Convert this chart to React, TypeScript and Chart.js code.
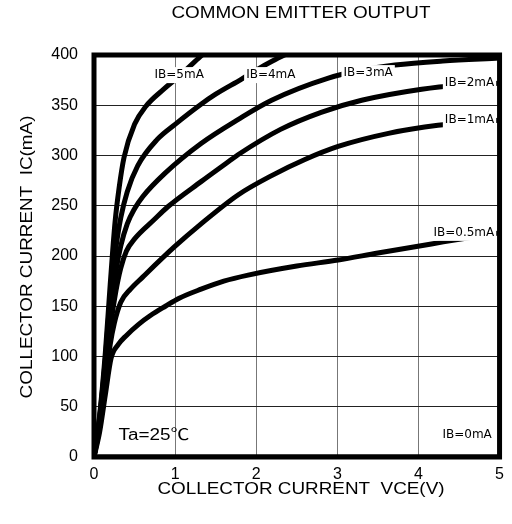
import React, { useEffect, useRef } from "react";
import { Chart, registerables } from "chart.js";

Chart.register(...registerables);

// ---- data (VCE in V, IC in mA) ----
const VCE_TICKS = [0, 1, 2, 3, 4, 5];
const IC_TICKS = [0, 50, 100, 150, 200, 250, 300, 350, 400];

const IB_5mA: [number, number][] = [
  [0, 0], [0.07, 42], [0.14, 104], [0.2, 172], [0.26, 234], [0.31, 268], [0.37, 298],
  [0.5, 331], [0.64, 349], [0.86, 366], [1.05, 379], [1.29, 397], [1.45, 408],
];
const IB_4mA: [number, number][] = [
  [0, 0], [0.07, 40], [0.14, 98], [0.2, 160], [0.27, 208], [0.33, 238], [0.41, 264],
  [0.54, 290], [0.78, 316], [1.0, 331], [1.32, 351], [1.5, 361], [1.82, 376],
  [2.0, 385], [2.2, 394], [2.45, 404],
];
const IB_3mA: [number, number][] = [
  [0, 0], [0.07, 38], [0.14, 94], [0.2, 145], [0.27, 185], [0.33, 210], [0.41, 232],
  [0.5, 247], [0.6, 259], [0.87, 282], [1.32, 312], [1.78, 336], [2.19, 355],
  [2.89, 377], [3.3, 385], [3.71, 390], [4.3, 394], [5.0, 397],
];
const IB_2mA: [number, number][] = [
  [0, 0], [0.07, 35], [0.14, 88], [0.2, 128], [0.27, 165], [0.33, 188], [0.4, 205],
  [0.5, 217], [0.74, 236], [0.91, 249], [1.32, 274], [1.66, 294], [1.78, 301],
  [2.3, 326], [2.8, 343], [3.3, 355], [4.04, 366], [4.5, 370], [5.0, 372],
];
const IB_1mA: [number, number][] = [
  [0, 0], [0.07, 30], [0.14, 74], [0.2, 112], [0.25, 133], [0.33, 154], [0.45, 167],
  [0.6, 179], [0.99, 209], [1.32, 232], [1.78, 261], [2.19, 280], [2.6, 296], [3.01, 309],
  [3.63, 322], [4.24, 330], [5.0, 335],
];
const IB_05mA: [number, number][] = [
  [0, 0], [0.07, 25], [0.14, 62], [0.21, 98], [0.3, 112], [0.4, 121], [0.55, 132],
  [0.7, 141], [0.88, 150], [1.05, 158], [1.32, 167], [1.6, 175], [1.9, 181],
  [2.5, 190], [3.01, 196], [3.5, 203], [4.16, 212], [4.6, 218], [5.0, 223],
];
const IB_0mA: [number, number][] = [[0, 0], [5, 0]];

const SERIES = [
  { name: "IB=5mA", pts: IB_5mA },
  { name: "IB=4mA", pts: IB_4mA },
  { name: "IB=3mA", pts: IB_3mA },
  { name: "IB=2mA", pts: IB_2mA },
  { name: "IB=1mA", pts: IB_1mA },
  { name: "IB=0.5mA", pts: IB_05mA },
  { name: "IB=0mA", pts: IB_0mA },
];

const TITLE = "COMMON EMITTER OUTPUT";
const X_TITLE = "COLLECTOR CURRENT  VCE(V)";
const Y_TITLE = "COLLECTOR CURRENT  IC(mA)";
const TEMP_NOTE = "Ta=25℃";

// annotation anchors (data coords) for curve labels
const LABEL_POS: Record<string, [number, number]> = {
  "IB=5mA": [1.05, 380],
  "IB=4mA": [2.18, 380],
  "IB=3mA": [3.38, 382],
  "IB=2mA": [4.63, 372],
  "IB=1mA": [4.63, 335],
  "IB=0.5mA": [4.56, 223],
  "IB=0mA": [4.6, 22],
};
const NOTE_POS: [number, number] = [0.74, 21];

const FONT = "'Liberation Sans', Arial, sans-serif";
const LABEL_FONT = "12px 'DejaVu Sans', sans-serif";
const WIDE = 1.18;

function wideText(ctx: CanvasRenderingContext2D, text: string, x: number, y: number, rot = false) {
  ctx.save();
  ctx.translate(x, y);
  if (rot) ctx.rotate(-Math.PI / 2);
  ctx.scale(WIDE, 1);
  ctx.fillText(text, 0, 0);
  ctx.restore();
}

const overlay = {
  id: "overlay",
  afterDatasetsDraw(chart: any) {
    const { ctx, chartArea, scales } = chart;
    const xs = scales.x, ys = scales.y;
    ctx.save();
    ctx.textBaseline = "middle";
    ctx.textAlign = "center";
    ctx.fillStyle = "#000";
    // curve labels with white backing
    ctx.font = LABEL_FONT;
    for (const s of SERIES) {
      const p = LABEL_POS[s.name];
      if (!p) continue;
      const cx = xs.getPixelForValue(p[0]);
      const cy = ys.getPixelForValue(p[1]);
      const w = ctx.measureText(s.name).width + 4;
      ctx.fillStyle = "#fff";
      ctx.fillRect(cx - w / 2, cy - 8, w, 16);
      ctx.fillStyle = "#000";
      ctx.fillText(s.name, cx, cy);
    }
    // temperature note
    ctx.font = `16px ${FONT}, 'Noto Sans CJK JP'`;
    wideText(ctx, TEMP_NOTE, xs.getPixelForValue(NOTE_POS[0]), ys.getPixelForValue(NOTE_POS[1]));
    // thick frame
    ctx.strokeStyle = "#000";
    ctx.lineWidth = 5;
    ctx.strokeRect(chartArea.left, chartArea.top, chartArea.right - chartArea.left, chartArea.bottom - chartArea.top);
    // titles
    ctx.font = `16px ${FONT}`;
    wideText(ctx, TITLE, 301, 14);
    wideText(ctx, X_TITLE, 301, 490);
    wideText(ctx, Y_TITLE, 28, 257, true);
    ctx.restore();
  },
};

export default function App() {
  const ref = useRef<HTMLCanvasElement | null>(null);
  useEffect(() => {
    if (!ref.current) return;
    const chart = new Chart(ref.current, {
      type: "line",
      data: {
        datasets: SERIES.map((s) => ({
          label: s.name,
          data: s.pts.map(([x, y]) => ({ x, y })),
          borderColor: "#000",
          borderWidth: 5,
          pointRadius: 0,
          fill: false,
          cubicInterpolationMode: "monotone" as const,
        })),
      },
      options: {
        animation: false,
        responsive: false,
        layout: { padding: { top: 55, right: 10, left: 0, bottom: 0 } },
        plugins: { legend: { display: false }, tooltip: { enabled: false }, title: { display: false } },
        scales: {
          x: {
            type: "linear",
            min: 0,
            max: 5,
            afterBuildTicks: (sc: any) => { sc.ticks = VCE_TICKS.map((v) => ({ value: v })); },
            afterFit: (sc: any) => { sc.height = 67; },
            grid: { color: "#777", lineWidth: 1, drawTicks: false },
            border: { display: false },
            ticks: { color: "#000", font: { family: FONT, size: 16 }, padding: 8 },
          },
          y: {
            type: "linear",
            min: 0,
            max: 400,
            afterBuildTicks: (sc: any) => { sc.ticks = IC_TICKS.map((v) => ({ value: v })); },
            afterFit: (sc: any) => { sc.width = 94; },
            grid: { color: "#222", lineWidth: 1, drawTicks: false },
            border: { display: false },
            ticks: { color: "#000", font: { family: FONT, size: 16 }, padding: 16 },
          },
        },
      },
      plugins: [overlay],
    });
    return () => chart.destroy();
  }, []);
  return (
    <div style={{ position: "fixed", left: 0, top: 0, width: 512, height: 524, background: "#fff" }}>
      <canvas ref={ref} width={512} height={524} style={{ display: "block" }} />
    </div>
  );
}
